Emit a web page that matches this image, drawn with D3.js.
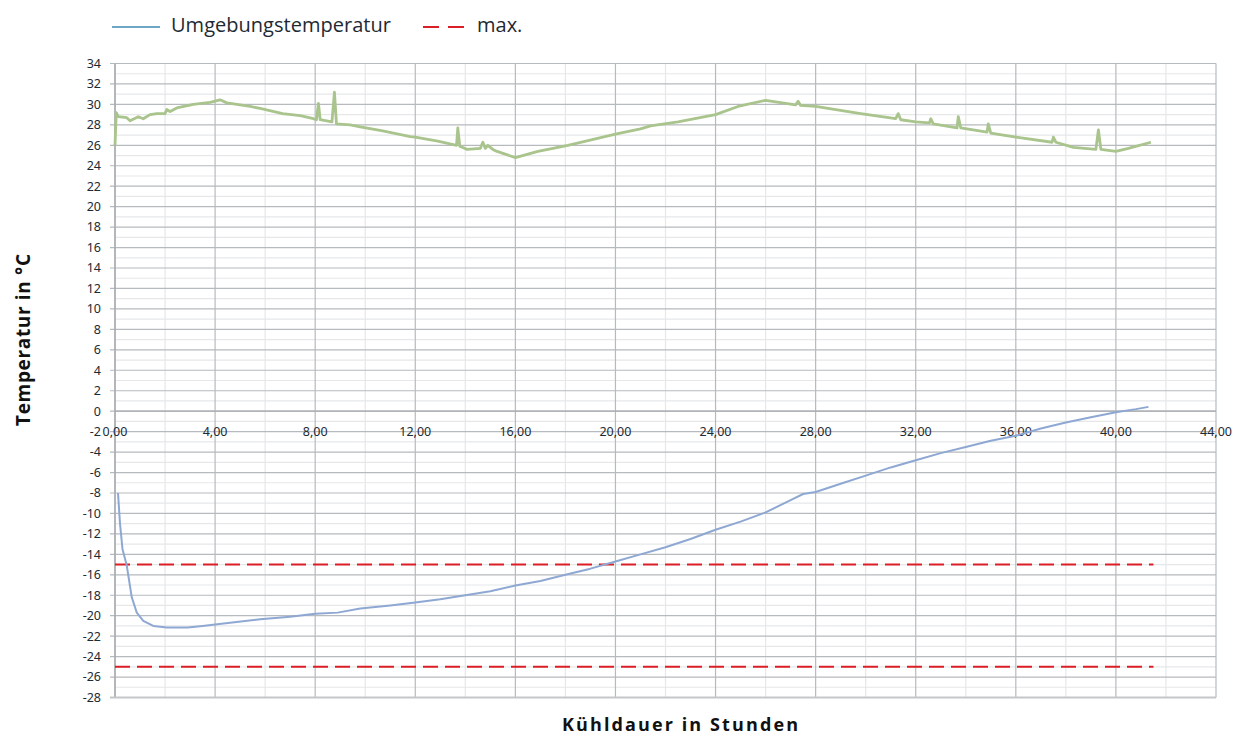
<!DOCTYPE html>
<html>
<head>
<meta charset="utf-8">
<script src="https://cdn.jsdelivr.net/npm/d3@7"></script>
<style>
  body { margin: 0; background: #fff; }
  svg { display: block; }
</style>
</head>
<body>
<div id="chart"></div>
<script>
/* CONSTANTS AND GLOBALS */
const width = 1243, height = 740,
  margin = {top: 63.5, bottom: 42.5, left: 115, right: 27};

// x tick values (hours) and their labels; the x labels sit on the 0 line,
// so "0,00" runs into the "-2" y label, as in the original
const xTickValues = [0, 4, 8, 12, 16, 20, 24, 28, 32, 36, 40, 44];
const xTickLabels = ["0,00", "4,00", "8,00", "12,00", "16,00", "20,00", "24,00", "28,00", "32,00", "36,00", "40,00", "44,00"];
const yTickValues = [-28, -26, -24, -22, -20, -18, -16, -14, -12, -10, -8, -6, -4, -2, 0, 2, 4, 6, 8, 10, 12, 14, 16, 18, 20, 22, 24, 26, 28, 30, 32, 34];

// ambient temperature [hours, °C]
const ambientTemp = [
  [0, 26.0], [0.05, 29.2], [0.13, 28.8], [0.47, 28.7], [0.6, 28.4], [0.93, 28.8], [1.13, 28.6],
  [1.4, 29.0], [1.67, 29.1], [2.0, 29.1], [2.07, 29.5], [2.2, 29.3], [2.47, 29.65], [3.13, 30.0],
  [3.8, 30.2], [4.2, 30.45], [4.47, 30.15], [5.4, 29.8], [5.8, 29.6], [6.7, 29.1], [7.4, 28.9],
  [7.93, 28.6], [8.05, 28.5], [8.13, 30.1], [8.2, 28.5], [8.67, 28.3], [8.77, 31.2], [8.85, 28.1],
  [9.4, 28.0], [9.8, 27.8], [10.7, 27.4], [11.8, 26.85], [12, 26.8], [12.9, 26.4], [13.65, 26.0],
  [13.7, 27.7], [13.78, 25.9], [14.07, 25.6], [14.6, 25.7], [14.7, 26.3], [14.8, 25.7], [14.9, 26.0],
  [15.1, 25.6], [15.27, 25.4], [16.0, 24.8], [16.9, 25.4], [18.1, 26.0], [20, 27.1], [21, 27.6],
  [21.4, 27.9], [22.5, 28.3], [24, 29.0], [24.9, 29.8], [26.0, 30.4], [27.2, 29.95], [27.3, 30.3],
  [27.4, 29.9], [28, 29.8], [29.8, 29.1], [31.2, 28.6], [31.3, 29.1], [31.4, 28.5], [32, 28.3],
  [32.55, 28.2], [32.6, 28.6], [32.7, 28.1], [33.65, 27.7], [33.7, 28.8], [33.8, 27.7], [34.85, 27.3],
  [34.9, 28.1], [35.0, 27.2], [36, 26.8], [37.45, 26.3], [37.5, 26.8], [37.6, 26.3], [38.3, 25.8],
  [39.2, 25.6], [39.3, 27.5], [39.4, 25.6], [40.0, 25.4], [40.5, 25.7], [41.4, 26.3]
];

// product temperature [hours, °C]
const productTemp = [
  [0.12, -8], [0.2, -11], [0.3, -13.5], [0.47, -15.1], [0.67, -18.2], [0.87, -19.7], [1.13, -20.5],
  [1.53, -21.0], [2.07, -21.15], [2.9, -21.15], [3.5, -21.0], [4, -20.85], [5.8, -20.35], [7, -20.1],
  [8, -19.8], [8.9, -19.7], [9.8, -19.3], [11, -19.0], [12, -18.7], [13, -18.4], [14, -18.0],
  [15, -17.6], [16, -17.05], [17, -16.6], [18, -16.0], [19, -15.4], [20, -14.7], [21, -14.0],
  [22, -13.3], [23, -12.5], [24, -11.6], [25, -10.8], [26, -9.9], [27, -8.7], [27.5, -8.1],
  [28, -7.9], [29, -7.1], [30, -6.3], [31, -5.5], [32, -4.8], [33, -4.1], [34, -3.5], [35, -2.9],
  [36, -2.4], [37, -1.7], [38, -1.1], [39, -0.6], [40, -0.1], [40.8, 0.2], [41.3, 0.42]
];

// limit lines (max.)
const limitValues = [-15, -25];
const limitRange = [0, 41.5];

/* SCALES */
const xScale = d3.scaleLinear()
  .domain([0, 44])
  .range([margin.left, width - margin.right]);

const yScale = d3.scaleLinear()
  .domain([-28, 34])
  .range([height - margin.bottom, margin.top]);

/* ELEMENTS */
const svg = d3.select("#chart").append("svg")
  .attr("width", width)
  .attr("height", height);

// minor grid
const gridG = svg.append("g");
gridG.selectAll("line.hminor")
  .data(d3.range(-27, 34, 2))
  .join("line")
    .attr("x1", xScale(0)).attr("x2", xScale(44))
    .attr("y1", d => yScale(d)).attr("y2", d => yScale(d))
    .attr("stroke", "#e6e7e9").attr("stroke-width", 1.2);
gridG.selectAll("line.vminor")
  .data(d3.range(2, 44, 4))
  .join("line")
    .attr("y1", yScale(-28)).attr("y2", yScale(34))
    .attr("x1", d => xScale(d)).attr("x2", d => xScale(d))
    .attr("stroke", "#e6e7e9").attr("stroke-width", 1.2);

// major grid
gridG.selectAll("line.hmajor")
  .data(yTickValues)
  .join("line")
    .attr("x1", xScale(0) - 5).attr("x2", xScale(44))
    .attr("y1", d => yScale(d)).attr("y2", d => yScale(d))
    .attr("stroke", "#b6babe").attr("stroke-width", 1.2);
svg.append("g").selectAll("line")
  .data(xTickValues)
  .join("line")
    .attr("y1", yScale(-28)).attr("y2", yScale(34))
    .attr("x1", d => xScale(d)).attr("x2", d => xScale(d))
    .attr("stroke", "#b6babe").attr("stroke-width", 1.2);

// axis lines
svg.append("line")
  .attr("x1", xScale(0)).attr("x2", xScale(0))
  .attr("y1", yScale(-28)).attr("y2", yScale(34))
  .attr("stroke", "#a9adb1").attr("stroke-width", 1.5);
svg.append("line")
  .attr("x1", xScale(0) - 5).attr("x2", xScale(44))
  .attr("y1", yScale(-28)).attr("y2", yScale(-28))
  .attr("stroke", "#c4c7ca").attr("stroke-width", 2);
svg.append("line")
  .attr("x1", xScale(0)).attr("x2", xScale(44))
  .attr("y1", yScale(0)).attr("y2", yScale(0))
  .attr("stroke", "#a9adb1").attr("stroke-width", 1.2);

// y tick labels
svg.append("g").selectAll("text")
  .data(yTickValues)
  .join("text")
    .attr("x", xScale(0) - 14)
    .attr("y", d => yScale(d))
    .attr("dy", "0.35em")
    .attr("text-anchor", "end")
    .attr("font-family", "'Noto Sans', sans-serif")
    .attr("font-size", "12.5px")
    .attr("fill", "#1e2a33")
    .text(d => d);

// x tick labels (sit on the 0 line)
svg.append("g").selectAll("text")
  .data(xTickValues)
  .join("text")
    .attr("x", d => xScale(d))
    .attr("y", yScale(0) + 25)
    .attr("text-anchor", "middle")
    .attr("font-family", "'Noto Sans', sans-serif")
    .attr("font-size", "12.5px")
    .attr("fill", "#1e2a33")
    .text((d, i) => xTickLabels[i]);

// limit lines
svg.append("g").selectAll("line")
  .data(limitValues)
  .join("line")
    .attr("x1", xScale(limitRange[0])).attr("x2", xScale(limitRange[1]))
    .attr("y1", d => yScale(d)).attr("y2", d => yScale(d))
    .attr("stroke", "#dc1f26")
    .attr("stroke-width", 2)
    .attr("stroke-dasharray", "15 7");

const line = d3.line()
  .x(d => xScale(d[0]))
  .y(d => yScale(d[1]));

svg.append("path")
  .datum(ambientTemp)
  .attr("d", line)
  .attr("fill", "none")
  .attr("stroke", "#a9c48c")
  .attr("stroke-width", 2.8)
  .attr("stroke-linejoin", "round");

svg.append("path")
  .datum(productTemp)
  .attr("d", line)
  .attr("fill", "none")
  .attr("stroke", "#8ea8d3")
  .attr("stroke-width", 2)
  .attr("stroke-linejoin", "round");

// legend
const legend = svg.append("g").attr("font-family", "'Open Sans', sans-serif").attr("font-size", "20px").attr("fill", "#1e2a33");
legend.append("line")
  .attr("x1", 112).attr("x2", 160).attr("y1", 27).attr("y2", 27)
  .attr("stroke", "#6ea7c6").attr("stroke-width", 2);
legend.append("text").attr("x", 171).attr("y", 32)
  .attr("textLength", 220).attr("lengthAdjust", "spacing")
  .text("Umgebungstemperatur");
legend.append("line")
  .attr("x1", 423).attr("x2", 464).attr("y1", 27).attr("y2", 27)
  .attr("stroke", "#dc1f26").attr("stroke-width", 2)
  .attr("stroke-dasharray", "16 9");
legend.append("text").attr("x", 477).attr("y", 32).text("max.");

// axis titles
svg.append("text")
  .attr("x", 680)
  .attr("y", 731)
  .attr("text-anchor", "middle")
  .attr("font-family", "'Open Sans', sans-serif")
  .attr("font-weight", "bold")
  .attr("font-size", "18px")
  .attr("textLength", 236).attr("lengthAdjust", "spacing")
  .attr("fill", "#111")
  .text("Kühldauer in Stunden");

svg.append("text")
  .attr("transform", `translate(30,340) rotate(-90)`)
  .attr("text-anchor", "middle")
  .attr("font-family", "'Open Sans', sans-serif")
  .attr("font-weight", "bold")
  .attr("font-size", "19px")
  .attr("textLength", 172).attr("lengthAdjust", "spacing")
  .attr("fill", "#111")
  .text("Temperatur in °C");
</script>
</body>
</html>
